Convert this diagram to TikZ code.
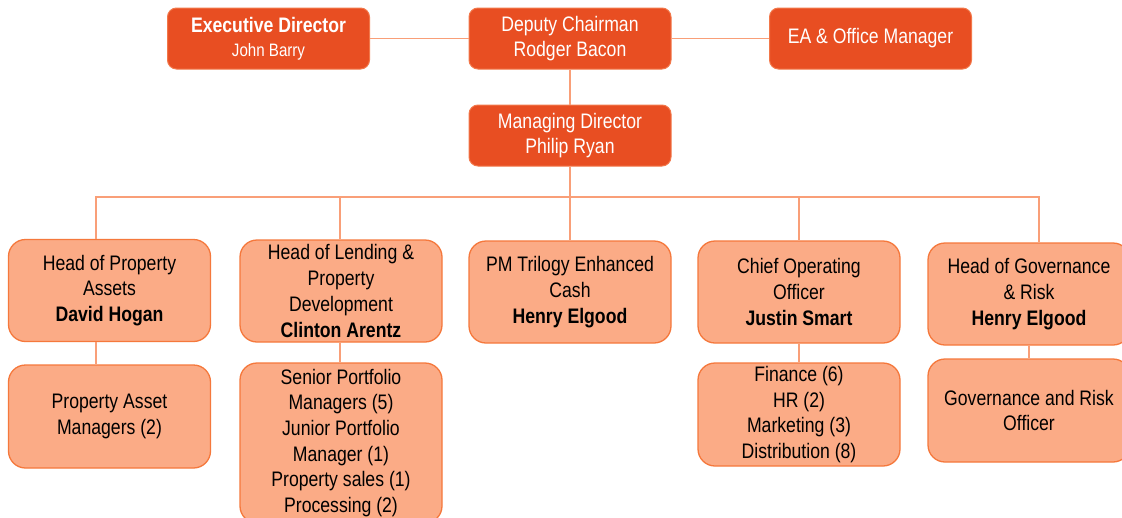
\documentclass[tikz,border=0pt]{standalone}
\usepackage{fontspec}
\setmainfont{Liberation Sans}[FakeStretch=0.84]
\definecolor{topfill}{HTML}{E84E22}
\definecolor{topdraw}{HTML}{F2784A}
\definecolor{lowfill}{HTML}{FBAB86}
\definecolor{lowdraw}{HTML}{F5783C}
\definecolor{linkcol}{HTML}{F99F78}
\tikzset{
  topbox/.style={draw=topdraw, line width=1pt, fill=topfill, text=white, rounded corners=9pt,
    minimum width=202pt, minimum height=61pt, align=center, inner sep=0pt,
    font=\fontsize{21}{25.7}\selectfont},
  lowbox/.style={draw=lowdraw, line width=1.3pt, fill=lowfill, text=black, rounded corners=17pt,
    minimum width=202pt, minimum height=102pt, align=center, inner sep=0pt,
    font=\fontsize{21}{25.7}\selectfont},
  link/.style={draw=linkcol, line width=1.5pt}
}
\begin{document}
\begin{tikzpicture}[x=1pt,y=-1pt]
\clip (0,0) rectangle (1122,517);
\fill[white] (0,0) rectangle (1122,517);
% top row
\node[topbox] (exec) at (268.5,38.5) {\textbf{Executive Director}\\[-2pt]{\fontsize{18}{22}\selectfont John Barry}};
\node[topbox] (dep) at (570,38.5) {Deputy Chairman\\Rodger Bacon};
\node[topbox] (ea) at (870.5,38.5) {EA \& Office Manager};
\node[topbox] (md) at (570,135.5) {Managing Director\\Philip Ryan};
% second row
\node[lowbox] (hpa) at (109.5,290.5) {Head of Property\\Assets\\\textbf{David Hogan}};
\node[lowbox] (hld) at (341,291) {Head of Lending \&\\Property\\Development\\\textbf{Clinton Arentz}};
\node[lowbox] (pm) at (570,292) {PM Trilogy Enhanced\\Cash\\\textbf{Henry Elgood}};
\node[lowbox] (coo) at (799,292) {Chief Operating\\Officer\\\textbf{Justin Smart}};
\node[lowbox] (hgr) at (1029,294) {Head of Governance\\\& Risk\\\textbf{Henry Elgood}};
% third row
\node[lowbox, minimum height=103pt] (pam) at (109.5,416.5) {Property Asset\\Managers (2)};
\node[lowbox, minimum height=160pt] (spm) at (341,443) {Senior Portfolio\\Managers (5)\\Junior Portfolio\\Manager (1)\\Property sales (1)\\Processing (2)};
\node[lowbox, minimum height=103pt] (fin) at (799,414.5) {Finance (6)\\HR (2)\\Marketing (3)\\Distribution (8)};
\node[lowbox, minimum height=103pt] (gro) at (1029,410.5) {Governance and Risk\\Officer};
% bus coordinates
\coordinate (busL) at (96,197);
\coordinate (busR) at (1039,197);
\coordinate (b2) at (340,197);
% connectors
\draw[link] (exec.east) -- (dep.west);
\draw[link] (dep.east) -- (ea.west);
\draw[link] (dep.south) -- (md.north);
\draw[link] (md.south) -- (md.south |- busL);
\draw[link] (busL |- hpa.north) -- (busL) -- (busR) -- (busR |- hgr.north);
\draw[link] (b2) -- (b2 |- hld.north);
\draw[link] (pm.north |- busL) -- (pm.north);
\draw[link] (coo.north |- busL) -- (coo.north);
\draw[link] (busL |- hpa.south) -- (busL |- pam.north);
\draw[link] (b2 |- hld.south) -- (b2 |- spm.north);
\draw[link] (coo.south) -- (fin.north);
\draw[link] (hgr.south) -- (gro.north);
\end{tikzpicture}
\end{document}
